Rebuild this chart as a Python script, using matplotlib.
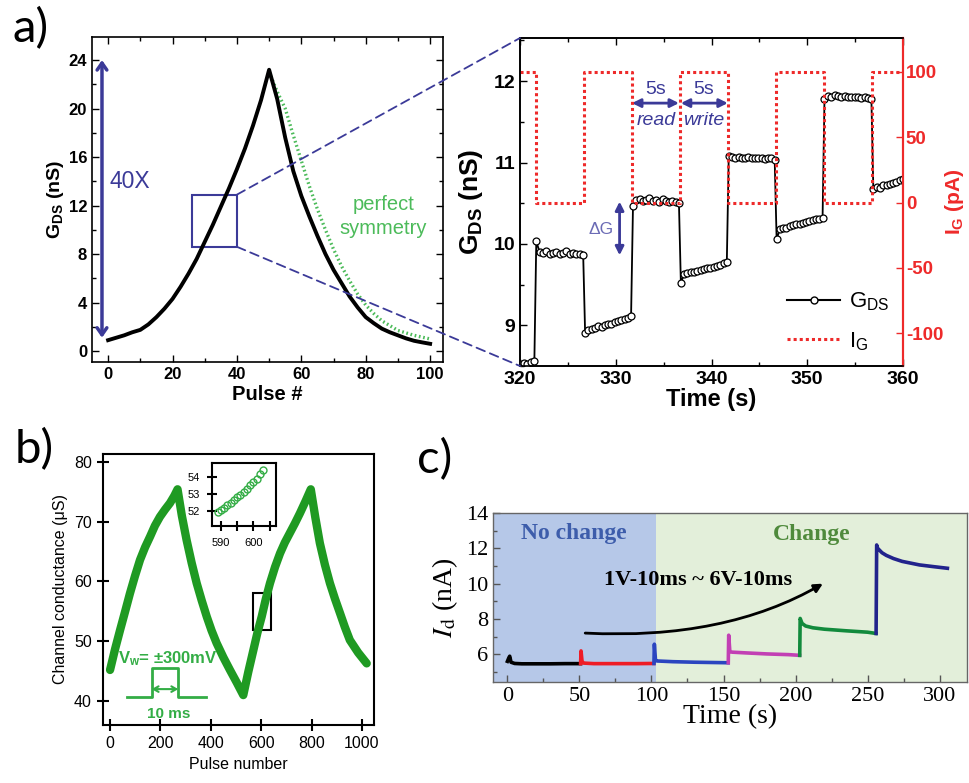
# plot.py
# Figura compuesta a) b) c): conductancia vs pulsos, escalones G_DS / I_G, corriente de drenador
# Uso: python3 plot.py  -> out.png

import matplotlib
matplotlib.use("Agg")
import matplotlib.pyplot as plt
import numpy as np
from matplotlib.patches import Rectangle, ConnectionPatch
from matplotlib.lines import Line2D

plt.rcParams["font.family"] = ["Liberation Sans", "DejaVu Sans"]
plt.rcParams["mathtext.fontset"] = "custom"
plt.rcParams["mathtext.rm"] = "Liberation Sans"
plt.rcParams["mathtext.it"] = "Liberation Sans:italic"
plt.rcParams["mathtext.bf"] = "Liberation Sans:bold"
plt.rcParams["axes.unicode_minus"] = False

W, H = 969, 783
NAVY = "#3b3a98"
RED = "#ee2a2a"
SYM_GREEN = "#4cbb5a"
B_GREEN = "#1f9a22"
B_TEXT = "#33ad45"
SERIF = "Liberation Serif"

# ---------------- a) izquierda: G_DS vs pulso ----------------
PULSE_UP = np.arange(0, 50.1, 2.5)
G_UP = [0.9, 1.1, 1.3, 1.55, 1.75, 2.2, 2.8, 3.5, 4.3, 5.3, 6.4,
        7.6, 9.0, 10.4, 11.9, 13.4, 15.0, 16.7, 18.6, 20.7, 23.2]
PULSE_DOWN = np.arange(50, 100.1, 2.5)
G_DOWN = [23.2, 20.8, 17.6, 14.85, 12.8, 11.1, 9.5, 8.0, 6.7, 5.6, 4.5,
          3.6, 2.8, 2.3, 1.85, 1.55, 1.3, 1.05, 0.85, 0.72, 0.6]
G_SYM = [23.0, 21.4, 20.0, 17.8, 15.7, 13.6, 11.7, 10.0, 8.4, 7.0, 5.8,
         4.7, 3.8, 3.1, 2.5, 2.1, 1.7, 1.5, 1.3, 1.15, 1.0]

# ---------------- a) derecha: escalones ----------------
SEG_T0 = [320.0, 321.7, 326.8, 331.8, 336.8, 341.8, 346.8, 351.8, 356.9]
SEG_T1 = [321.5, 326.6, 331.6, 336.6, 341.6, 346.6, 351.6, 356.7, 360.0]
SEG_G = [
    [8.53, 8.54, 8.53, 8.55, 8.56],
    [10.03, 9.90, 9.89, 9.91, 9.88, 9.89, 9.90, 9.88, 9.89, 9.91, 9.88, 9.89, 9.87, 9.88, 9.86],
    [8.91, 8.94, 8.96, 8.97, 8.99, 8.98, 9.00, 9.02, 9.01, 9.04, 9.05, 9.06, 9.08, 9.09, 9.11],
    [10.46, 10.54, 10.55, 10.53, 10.54, 10.56, 10.53, 10.54, 10.52, 10.55, 10.53, 10.52, 10.53, 10.52, 10.50],
    [9.52, 9.63, 9.64, 9.65, 9.66, 9.67, 9.68, 9.69, 9.70, 9.71, 9.72, 9.73, 9.74, 9.76, 9.78],
    [11.08, 11.07, 11.06, 11.07, 11.05, 11.06, 11.07, 11.05, 11.06, 11.05, 11.06, 11.04, 11.05, 11.05, 11.03],
    [10.06, 10.18, 10.20, 10.19, 10.22, 10.23, 10.24, 10.25, 10.26, 10.27, 10.28, 10.29, 10.30, 10.31, 10.32],
    [11.78, 11.82, 11.81, 11.83, 11.82, 11.81, 11.82, 11.80, 11.81, 11.80, 11.81, 11.79, 11.80, 11.79, 11.78],
    [10.68, 10.70, 10.69, 10.72, 10.73, 10.74, 10.75, 10.76, 10.78, 10.80],
]
IG_T = [320.0, 321.7, 326.7, 331.7, 336.7, 341.7, 346.7, 351.7, 356.8, 360.0]
IG_V = [100, 0, 100, 0, 100, 0, 100, 0, 100, 100]

# ---------------- b) conductancia de canal ----------------
B_PULSE = [0, 20, 40, 60, 79, 99, 119, 139, 159, 178, 198, 218, 238, 255, 268,
           285, 304, 324, 344, 364, 384, 403, 423, 450, 476, 503, 529,
           549, 569, 585, 602, 618, 635, 655, 675, 694, 714, 734, 754, 776, 797,
           815, 833, 853, 873, 893, 913, 932, 952, 985, 1019]
B_COND = [45.2, 48.7, 51.9, 55.0, 58.0, 60.9, 63.6, 65.7, 67.5, 69.3, 70.8, 72.0, 73.1, 74.3, 75.4,
          71.0, 66.9, 63.1, 59.7, 56.8, 54.1, 51.8, 49.7, 47.3, 45.2, 43.1, 41.0,
          44.9, 48.5, 51.4, 54.1, 57.0, 59.7, 62.4, 64.7, 66.5, 68.1, 69.7, 71.4, 73.4, 75.4,
          70.7, 66.4, 62.8, 59.7, 57.1, 54.7, 52.4, 50.2, 48.1, 46.3]
INSET_PULSE = [589, 590, 591, 592, 593, 594, 595, 596, 597, 598, 599, 600, 601, 602, 603]
INSET_COND = [51.95, 52.05, 52.2, 52.35, 52.5, 52.65, 52.8, 52.95, 53.1, 53.3, 53.5,
              53.7, 53.9, 54.15, 54.4]
SKETCH_X = [66, 165, 165, 271, 271, 381]
SKETCH_Y = [40.6, 40.6, 45.6, 45.6, 40.6, 40.6]

# ---------------- c) corriente de drenador ----------------
C_T_BLACK = [0, 1.0, 1.6, 2.5, 5, 10, 20, 30, 40, 50.7]
C_I_BLACK = [5.6, 5.8, 5.89, 5.55, 5.48, 5.46, 5.46, 5.46, 5.47, 5.47]
C_T_RED = [50.8, 51.1, 51.8, 53, 60, 75, 90, 101.6]
C_I_RED = [5.47, 6.19, 5.6, 5.5, 5.47, 5.47, 5.47, 5.48]
C_T_BLUE = [101.7, 102.0, 102.8, 104, 115, 130, 145, 153.2]
C_I_BLUE = [5.48, 6.57, 5.65, 5.62, 5.58, 5.55, 5.53, 5.52]
C_T_MAG = [153.3, 153.6, 154.4, 156, 165, 180, 195, 202.8]
C_I_MAG = [5.52, 7.08, 6.15, 6.12, 6.08, 6.02, 5.98, 5.94]
C_T_GREEN = [202.9, 203.2, 204.5, 207, 212, 220, 235, 250, 255.8]
C_I_GREEN = [5.94, 8.03, 7.75, 7.6, 7.5, 7.42, 7.33, 7.25, 7.18]
C_T_NAVY = [255.9, 256.3, 257, 260, 263, 268, 274, 286, 296, 305.4]
C_I_NAVY = [7.18, 12.19, 12.0, 11.75, 11.6, 11.42, 11.26, 11.06, 10.96, 10.87]
C_BOUNDARY = 103.1


def px_rect(x0, y0, x1, y1):
    return [x0 / W, 1 - y1 / H, (x1 - x0) / W, (y1 - y0) / H]


def bold_ticks(ax, size, color=None):
    for lab in ax.get_xticklabels() + ax.get_yticklabels():
        lab.set_fontweight("bold")
        lab.set_fontsize(size)
        if color:
            lab.set_color(color)


fig = plt.figure(figsize=(W / 100, H / 100), dpi=100)

# ================= a) izquierda =================
ax1 = fig.add_axes(px_rect(92, 37, 443, 362))
ax1.plot(PULSE_DOWN, G_SYM, color=SYM_GREEN, lw=2.4, ls=(0, (0.5, 0.8)))
ax1.plot(np.concatenate([PULSE_UP, PULSE_DOWN[1:]]), G_UP + G_DOWN[1:], color="k",
         lw=2.8, solid_joinstyle="round")
ax1.set_xlim(-5, 104)
ax1.set_ylim(-0.9, 25.9)
ax1.set_xticks(np.arange(0, 101, 20))
ax1.set_xticks(np.arange(0, 101, 10), minor=True)
ax1.set_yticks(np.arange(0, 25, 4))
ax1.set_yticks(np.arange(0, 25, 2), minor=True)
ax1.tick_params(which="both", direction="in", top=True, right=True, width=1)
ax1.tick_params(which="major", length=5)
ax1.tick_params(which="minor", length=3)
bold_ticks(ax1, 12)
for s in ax1.spines.values():
    s.set_linewidth(1.2)
ax1.set_xlabel("Pulse #", fontsize=14.5, fontweight="bold", labelpad=2)
ax1.set_ylabel(r"G$_\mathbf{DS}$ (nS)", fontsize=14, fontweight="bold", labelpad=2)

ax1.add_patch(Rectangle((26.2, 8.6), 13.8, 4.3, fill=False, ec=NAVY, lw=1.5))
ax1.annotate("", xy=(-1.9, 24.0), xytext=(-1.9, 1.1),
             arrowprops=dict(arrowstyle="<->,head_length=0.5,head_width=0.35",
                             color=NAVY, lw=2.5, shrinkA=0, shrinkB=0))
ax1.text(6.8, 14.0, "40X", color=NAVY, fontsize=16.5, ha="center", va="center")
ax1.text(85.5, 12.1, "perfect", color=SYM_GREEN, fontsize=14.5, ha="center", va="center")
ax1.text(85.5, 10.1, "symmetry", color=SYM_GREEN, fontsize=14.5, ha="center", va="center")

# ================= a) derecha =================
ax2 = fig.add_axes(px_rect(520, 38, 903, 366))
t_all, g_all = [], []
for t0, t1, g in zip(SEG_T0, SEG_T1, SEG_G):
    t_all.extend(np.linspace(t0, t1, len(g)))
    g_all.extend(g)
ax2.plot(t_all, g_all, color="k", lw=1.3, marker="o", ms=5, mfc="white",
         mec="k", mew=0.9, zorder=3)
ax2.set_xlim(320, 360)
ax2.set_ylim(8.5, 12.53)
ax2.set_xticks(np.arange(320, 361, 10))
ax2.set_xticks(np.arange(320, 361, 5), minor=True)
ax2.set_yticks([9, 10, 11, 12])
ax2.set_yticks(np.arange(8.5, 12.6, 0.5), minor=True)
ax2.tick_params(which="both", direction="in", top=True, right=False, width=1)
ax2.tick_params(which="major", length=5)
ax2.tick_params(which="minor", length=3)
bold_ticks(ax2, 14)
ax2.set_xlabel("Time (s)", fontsize=17, fontweight="bold", labelpad=0)
ax2.set_ylabel(r"G$_\mathbf{DS}$ (nS)", fontsize=19, fontweight="bold", labelpad=6)

ax3 = ax2.twinx()
ax3.plot(IG_T, IG_V, drawstyle="steps-post", color=RED, lw=2.2, ls=(0, (1, 1)))
ax3.set_ylim(-125, 126)
ax3.set_yticks([-100, -50, 0, 50, 100])
ax3.tick_params(axis="y", direction="in", length=5, width=1, colors=RED, pad=2)
bold_ticks(ax3, 13.5, RED)
ax3.set_ylabel(r"I$_\mathbf{G}$ (pA)", fontsize=15, fontweight="bold", color=RED, labelpad=0)
for a in (ax2, ax3):
    for s in a.spines.values():
        s.set_linewidth(1.2)
    a.spines["right"].set_color(RED)
    a.spines["right"].set_linewidth(1.5)

arrow_kw = dict(arrowstyle="<|-|>,head_length=0.5,head_width=0.25", color=NAVY,
                lw=2, shrinkA=0, shrinkB=0)
ax2.annotate("", xy=(331.7, 11.73), xytext=(336.6, 11.73), arrowprops=arrow_kw)
ax2.annotate("", xy=(336.8, 11.73), xytext=(341.7, 11.73), arrowprops=arrow_kw)
ax2.text(334.2, 11.9, "5s", color=NAVY, fontsize=14, ha="center", va="center")
ax2.text(339.2, 11.9, "5s", color=NAVY, fontsize=14, ha="center", va="center")
ax2.text(334.2, 11.52, "read", color=NAVY, fontsize=14, style="italic", ha="center", va="center")
ax2.text(339.2, 11.52, "write", color=NAVY, fontsize=14, style="italic", ha="center", va="center")
ax2.annotate("", xy=(330.4, 10.52), xytext=(330.4, 9.86), arrowprops=arrow_kw)
ax2.text(328.5, 10.18, "ΔG", color="#6b6bb5", fontsize=12.5, ha="center", va="center")

handles = [Line2D([], [], color="k", lw=1.5, marker="o", ms=5, mfc="white", mec="k"),
           Line2D([], [], color=RED, lw=2.2, ls=(0, (1, 1)))]
ax3.legend(handles, [r"G$_\mathregular{DS}$", r"I$_\mathregular{G}$"], loc="lower right",
           frameon=False, fontsize=16, handlelength=2.4, labelspacing=0.75,
           borderaxespad=0.2, handletextpad=0.4)

# conectores de zoom
for ya, yb in ((12.9, 1.0), (8.6, 0.0)):
    con = ConnectionPatch(xyA=(40, ya), coordsA=ax1.transData,
                          xyB=(0, yb), coordsB=ax2.transAxes,
                          color=NAVY, lw=1.3, ls=(0, (5, 3)))
    fig.add_artist(con)

# ================= b) =================
ax4 = fig.add_axes(px_rect(103, 454, 374, 725))
ax4.plot(B_PULSE, B_COND, color=B_GREEN, lw=6, solid_capstyle="round",
         solid_joinstyle="round")
ax4.set_xlim(-28, 1048)
ax4.set_ylim(36, 81.3)
ax4.set_xticks(np.arange(0, 1001, 200))
ax4.set_yticks(np.arange(40, 81, 10))
ax4.tick_params(direction="inout", length=9, width=1.5, labelsize=11.5)
for s in ax4.spines.values():
    s.set_linewidth(1.5)
ax4.set_xlabel("Pulse number", fontsize=11.5)
ax4.set_ylabel("Channel conductance (μS)", fontsize=11.5)
ax4.add_patch(Rectangle((567, 51.9), 72, 6.1, fill=False, ec="k", lw=1.5))
ax4.plot(SKETCH_X, SKETCH_Y, color=B_TEXT, lw=2)
ax4.annotate("", xy=(165, 42.0), xytext=(271, 42.0),
             arrowprops=dict(arrowstyle="<->,head_length=0.35,head_width=0.2",
                             color=B_TEXT, lw=1.5, shrinkA=0, shrinkB=0))
ax4.text(228, 47.1, r"V$_\mathregular{w}$= ±300mV", color=B_TEXT, fontsize=12,
         fontweight="bold", ha="center", va="center")
ax4.text(231, 37.9, "10 ms", color=B_TEXT, fontsize=11, fontweight="bold",
         ha="center", va="center")

ax5 = fig.add_axes(px_rect(212, 463, 276, 526))
ax5.plot(INSET_PULSE, INSET_COND, ls="none", marker="o", ms=5, mfc="none",
         mec=B_TEXT, mew=1)
ax5.set_xlim(587.3, 606.9)
ax5.set_ylim(51.13, 54.81)
ax5.set_xticks([590, 595, 600, 605])
ax5.set_xticklabels(["590", "", "600", ""])
ax5.set_yticks([52, 53, 54])
ax5.tick_params(direction="inout", length=7, width=1.5, labelsize=8, pad=5)
for s in ax5.spines.values():
    s.set_linewidth(1.5)

# ================= c) =================
ax6 = fig.add_axes(px_rect(493, 513, 967, 682))
ax6.axvspan(-10, C_BOUNDARY, color="#b6c8e8", lw=0, zorder=0)
ax6.axvspan(C_BOUNDARY, 319, color="#e3efda", lw=0, zorder=0)
for tt, ii, col in ((C_T_BLACK, C_I_BLACK, "k"), (C_T_RED, C_I_RED, "#ee1c25"),
                    (C_T_BLUE, C_I_BLUE, "#2b45c0"), (C_T_MAG, C_I_MAG, "#c23fb4"),
                    (C_T_GREEN, C_I_GREEN, "#128a3c"), (C_T_NAVY, C_I_NAVY, "#22238c")):
    ax6.plot(tt, ii, color=col, lw=2.6, solid_joinstyle="round")
ax6.set_xlim(-10, 319)
ax6.set_ylim(4.43, 14.0)
ax6.set_xticks(np.arange(0, 301, 50))
ax6.set_xticks(np.arange(0, 319, 25), minor=True)
ax6.set_yticks(np.arange(6, 15, 2))
ax6.set_yticks(np.arange(5, 15, 1), minor=True)
ax6.tick_params(which="both", direction="in", width=1, color="#555555")
ax6.tick_params(which="major", length=5)
ax6.tick_params(which="minor", length=3)
for lab in ax6.get_xticklabels() + ax6.get_yticklabels():
    lab.set_family(SERIF)
    lab.set_fontsize(16)
for s in ax6.spines.values():
    s.set_color("#666666")
    s.set_linewidth(1.0)
ax6.set_xlabel("Time (s)", family=SERIF, fontsize=20, labelpad=-1)
ax6.set_ylabel(r"$I_\mathrm{d}$ (nA)", family=SERIF, fontsize=20, math_fontfamily="stix",
               labelpad=4)
ax6.text(46.4, 12.86, "No change", family=SERIF, fontsize=17, fontweight="bold",
         color="#3d5dab", ha="center", va="center")
ax6.text(211.4, 12.8, "Change", family=SERIF, fontsize=17, fontweight="bold",
         color="#4f8a3c", ha="center", va="center")
ax6.text(132, 10.2, "1V-10ms ~ 6V-10ms", family=SERIF, fontsize=16, fontweight="bold",
         color="k", ha="center", va="center")
ax6.annotate("", xy=(219, 10.0), xytext=(54, 7.2),
             arrowprops=dict(arrowstyle="-|>,head_length=0.5,head_width=0.25",
                             color="k", lw=2, shrinkA=0, shrinkB=0,
                             connectionstyle="angle3,angleA=-3,angleB=30"))

# etiquetas de panel
fig.text(12 / W, 1 - 42 / H, "a)", fontsize=34, family="Lato", va="baseline")
fig.text(15 / W, 1 - 463 / H, "b)", fontsize=34, family="Lato", va="baseline")
fig.text(417 / W, 1 - 473 / H, "c)", fontsize=34, family="Lato", va="baseline")

fig.savefig("out.png", dpi=100)
